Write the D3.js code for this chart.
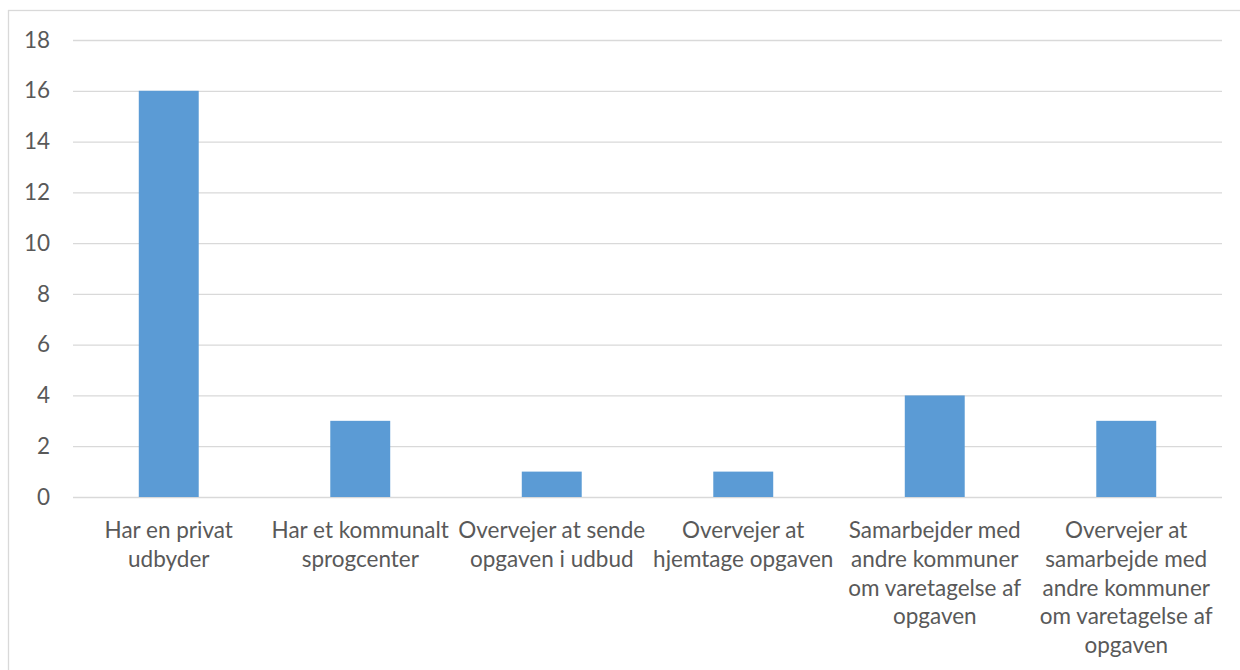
<!DOCTYPE html>
<html lang="da">
<head>
    <meta charset="UTF-8">
    <title>Organisering af opgaven</title>
    <script src="https://d3js.org/d3.v7.min.js"></script>
    <style>
        body { margin: 0; background: #fff; }
        svg text { font-family: Lato, "Open Sans", sans-serif; fill: #595959; }
    </style>
</head>
<body>
    <svg width="1240" height="670"></svg>
    <script>
        // categories (with the line breaks used in the picture) and counts
        const categories = [
            "Har en privat|udbyder",
            "Har et kommunalt|sprogcenter",
            "Overvejer at sende|opgaven i udbud",
            "Overvejer at|hjemtage opgaven",
            "Samarbejder med|andre kommuner|om varetagelse af|opgaven",
            "Overvejer at|samarbejde med|andre kommuner|om varetagelse af|opgaven"
        ];
        const values = [16, 3, 1, 1, 4, 3];
        const yTicks = [0, 2, 4, 6, 8, 10, 12, 14, 16, 18];

        const svg = d3.select("svg");
        const plotLeft = 73, plotRight = 1222, plotTop = 40, plotBottom = 497;
        const fontSize = 22.5;

        // chart area frame (runs off the right and bottom of the picture)
        svg.append("rect")
            .attr("x", 8.5).attr("y", 10.5)
            .attr("width", 1240).attr("height", 700)
            .attr("fill", "none")
            .attr("stroke", "#d9d9d9")
            .attr("stroke-width", 1.3);

        const x = d3.scaleBand()
            .domain(categories)
            .range([plotLeft, plotRight])
            .paddingInner(0.687)
            .paddingOuter(0.3435);
        const y = d3.scaleLinear()
            .domain([0, 18])
            .range([plotBottom, plotTop]);

        const yAxis = svg.append("g")
            .attr("transform", "translate(" + plotLeft + ",0)")
            .call(d3.axisLeft(y).tickValues(yTicks).tickSize(-(plotRight - plotLeft)).tickPadding(23));
        yAxis.select(".domain").remove();
        yAxis.selectAll(".tick line").attr("stroke", "#d9d9d9").attr("stroke-width", 1.3);
        yAxis.selectAll(".tick text")
            .attr("font-size", fontSize)
            .attr("fill", null);
        yAxis.attr("font-family", null).attr("font-size", null);

        svg.selectAll(".bar")
            .data(values)
            .enter()
            .append("rect")
            .attr("class", "bar")
            .attr("x", function(d, i) { return x(categories[i]); })
            .attr("y", function(d) { return y(d); })
            .attr("width", x.bandwidth())
            .attr("height", function(d) { return y(0) - y(d); })
            .attr("fill", "#5b9bd5");

        const labels = svg.selectAll(".xlabel")
            .data(categories)
            .enter()
            .append("text")
            .attr("class", "xlabel")
            .attr("text-anchor", "middle")
            .attr("font-size", fontSize)
            .attr("transform", function(d) { return "translate(" + (x(d) + x.bandwidth() / 2) + "," + (plotBottom + 41) + ")"; });
        labels.selectAll("tspan")
            .data(function(d) { return d.split("|"); })
            .enter()
            .append("tspan")
            .attr("x", 0)
            .attr("y", function(d, i) { return i * 28.8; })
            .text(function(d) { return d; });
    </script>
</body>
</html>
